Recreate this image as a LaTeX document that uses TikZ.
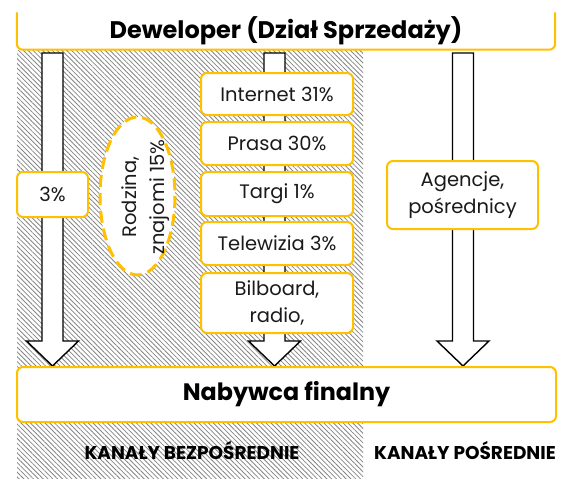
\documentclass[tikz,border=0pt]{standalone}
\usepackage{fontspec}
\setmainfont{Poppins}
\usetikzlibrary{patterns.meta}
\definecolor{gold}{HTML}{FFC000}
\definecolor{txt}{HTML}{1A1A1A}
\newcommand\blockarrow[1]{%
  \draw[barrow] ({#1-10.5},53) -- ({#1+10.5},53) -- ({#1+10.5},341) -- ({#1+26},341)
    -- (#1,366) -- ({#1-26},341) -- ({#1-10.5},341) -- cycle;}
\begin{document}
\begin{tikzpicture}[x=1pt,y=-1pt,
  box/.style={draw=gold, line width=2pt, rounded corners=6pt, fill=white,
    align=center, text=txt, font=\fontsize{19.5}{27}\selectfont, inner sep=0pt},
  barrow/.style={draw=black, line width=1.4pt, fill=white, line join=miter},
  hatch/.style={pattern={Lines[angle=-45,distance=3.4pt,line width=0.8pt]}, pattern color=gray!95},
  label/.style={font=\fontsize{18.5}{20}\selectfont\bfseries, text=black},
]
\useasboundingbox (0,0) rectangle (576,479);
\fill[white] (0,0) rectangle (576,479);
\fill[hatch] (17,50) rectangle (363,479);

% top box (open at its top)
\node[minimum width=538pt, minimum height=37pt, inner sep=0pt,
      font=\fontsize{24}{26}\selectfont\bfseries] (dev) at (286,31) {Deweloper (Dział Sprzedaży)};
\draw[gold, line width=2pt, rounded corners=6pt]
  (dev.north west) -- (dev.south west) -- (dev.south east) -- (dev.north east);

% block arrows
\blockarrow{52.5}
\blockarrow{274.5}
\blockarrow{463}

% bottom box
\node[box, minimum width=539pt, minimum height=55pt,
      font=\fontsize{23.8}{26}\selectfont\bfseries, text=black] (nab) at (286.5,394.5) {Nabywca finalny};

% direct channel boxes
\node[box, minimum width=71pt, minimum height=45pt] (b3) at (52.5,194.5) {3\%};
\node[box, minimum width=152pt, minimum height=42pt] (inet) at (277,94) {Internet 31\%};
\node[box, minimum width=152pt, minimum height=43pt] (prasa) at (277,143.5) {Prasa 30\%};
\node[box, minimum width=152pt, minimum height=44pt] (targi) at (277,194) {Targi 1\%};
\node[box, minimum width=152pt, minimum height=43pt] (tv) at (277,243.5) {Telewizia 3\%};
\node[box, minimum width=152pt, minimum height=60pt] (bill) at (277,303) {Bilboard,\\radio,};

% indirect channel box
\node[box, minimum width=151pt, minimum height=68pt] (ag) at (462.5,195) {Agencje,\\pośrednicy};

% family ellipse
\draw[gold, line width=3pt, dash pattern=on 12pt off 6pt, fill=white]
  (137.5,196) ellipse [x radius=37.5, y radius=79];
\node[rotate=90, align=center, text=txt, font=\fontsize{19.5}{28}\selectfont] (rodz) at (146,197) {Rodzina,\\znajomi 15\%};

% channel labels
\node[label] (kb) at (192,450) {KANAŁY BEZPOŚREDNIE};
\node[label] (kp) at (465,450) {KANAŁY POŚREDNIE};
\end{tikzpicture}
\end{document}
